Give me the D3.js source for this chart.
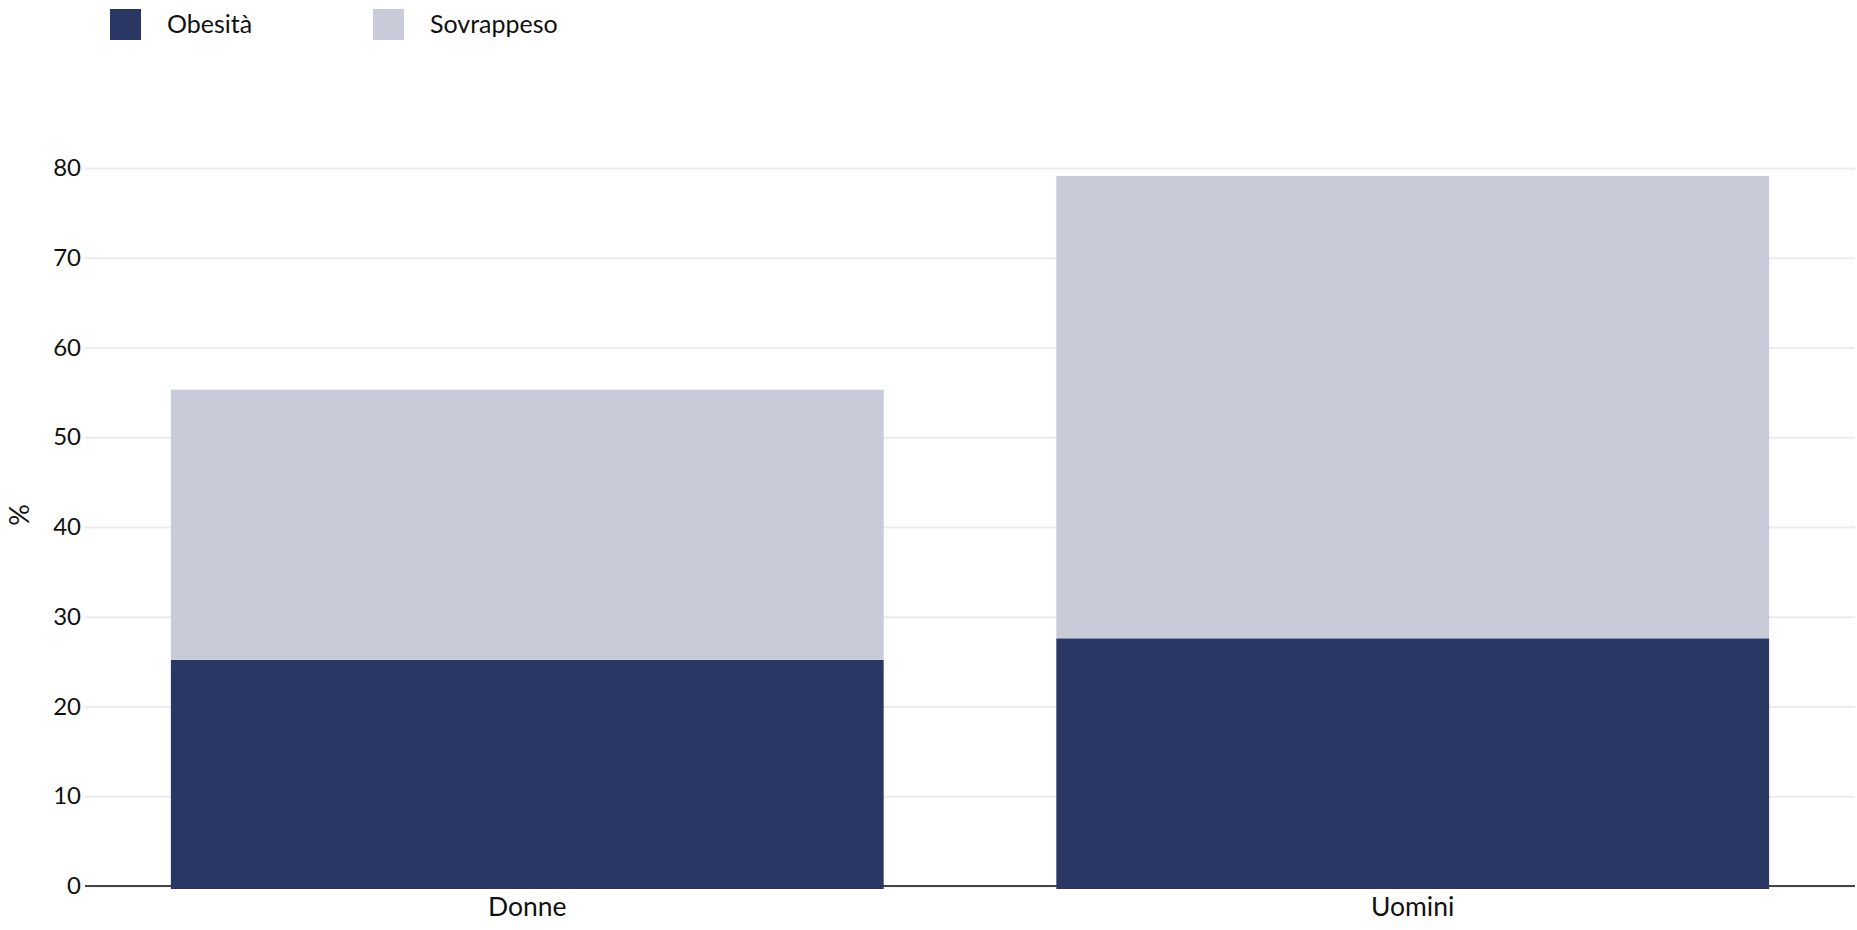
<!DOCTYPE html>
<html>
<head>
<meta charset="utf-8">
<script src="https://cdn.jsdelivr.net/npm/d3@7"></script>
<style>
  body { margin: 0; background: #fff; }
  text { font-family: Lato, "Open Sans", sans-serif; fill: #111; }
</style>
</head>
<body>
<div class="chart"></div>
<script>
const categories = ['Donne', 'Uomini'];
const obesita = [25.2, 27.6];
const sovrappeso = [30.1, 51.5];
const seriesNames = ['Obesità', 'Sovrappeso'];
const seriesColors = ['#2a3764', '#c9ccd8'];
const yTicks = [0, 10, 20, 30, 40, 50, 60, 70, 80];

const W = 1857, H = 930;
const margin = {top: 168, left: 85, bottom: 44, right: 2};
const width = W - margin.left - margin.right;
const height = H - margin.top - margin.bottom;

const svg = d3.select('.chart')
    .append('svg')
    .attr('width', W)
    .attr('height', H);

const g = svg.append('g')
    .attr('transform', 'translate(' + margin.left + ',' + margin.top + ')');

const xScale = d3.scaleBand()
    .domain(categories)
    .range([0, width])
    .paddingInner(0.195)
    .paddingOuter(0.097);

const yScale = d3.scaleLinear()
    .domain([0, 80])
    .range([height, 0]);

// grid + y labels
const yAxis = d3.axisLeft(yScale)
    .tickValues(yTicks)
    .tickSize(-width)
    .tickPadding(4);

g.append('g')
    .attr('class', 'y-axis')
    .call(yAxis)
    .call(a => a.select('.domain').remove())
    .call(a => a.selectAll('line').attr('stroke', '#ebebeb').attr('stroke-width', 2))
    .call(a => a.selectAll('text').attr('font-size', 24).attr('fill', '#111')
        .style('font-family', 'Lato, sans-serif'));

// baseline
g.append('line')
    .attr('x1', 0).attr('x2', width)
    .attr('y1', yScale(0)).attr('y2', yScale(0))
    .attr('stroke', '#444')
    .attr('stroke-width', 2);

// stacked bars
const rows = categories.map((c, i) => ({cat: c, Obesità: obesita[i], Sovrappeso: sovrappeso[i]}));
const stack = d3.stack().keys(seriesNames)(rows);

g.selectAll('.layer')
    .data(stack)
    .enter()
    .append('g')
    .attr('class', 'layer')
    .attr('fill', (d, i) => seriesColors[i])
    .selectAll('rect')
    .data(d => d)
    .enter()
    .append('rect')
    .attr('x', d => xScale(d.data.cat))
    .attr('y', d => yScale(d[1]))
    .attr('width', xScale.bandwidth())
    .attr('height', d => yScale(d[0]) - yScale(d[1]) + (d[0] === 0 ? 3 : 0));

// x labels
const xAxis = d3.axisBottom(xScale).tickSize(0).tickPadding(11);
g.append('g')
    .attr('class', 'x-axis')
    .attr('transform', 'translate(0,' + height + ')')
    .call(xAxis)
    .call(a => a.select('.domain').remove())
    .call(a => a.selectAll('text').attr('font-size', 26.5).attr('fill', '#111')
        .style('font-family', 'Lato, sans-serif'));

// y title
svg.append('text')
    .attr('transform', 'translate(29,515) rotate(-90)')
    .attr('text-anchor', 'middle')
    .attr('font-size', 27)
    .text('%');

// legend
const legendX = [110, 373];
const legend = svg.selectAll('.legend')
    .data(seriesNames)
    .enter()
    .append('g')
    .attr('class', 'legend')
    .attr('transform', (d, i) => 'translate(' + legendX[i] + ',9)');

legend.append('rect')
    .attr('width', 31)
    .attr('height', 31)
    .attr('fill', (d, i) => seriesColors[i]);

legend.append('text')
    .attr('x', 57)
    .attr('y', 24)
    .attr('font-size', 25)
    .text(d => d);
</script>
</body>
</html>
